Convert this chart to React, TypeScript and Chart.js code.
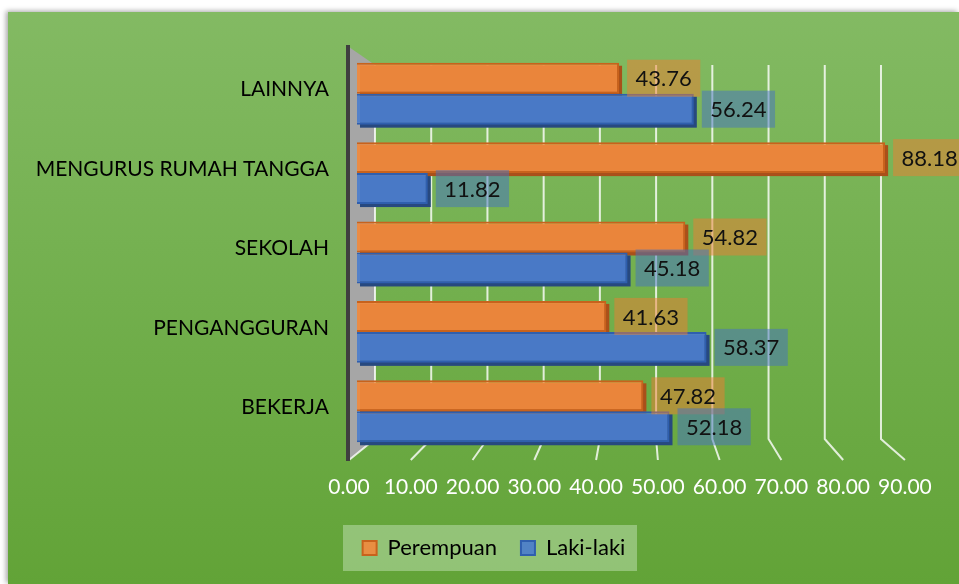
import React, { useEffect, useRef } from "react";
import { Chart, registerables } from "chart.js";

Chart.register(...registerables);

const categories = ["LAINNYA", "MENGURUS RUMAH TANGGA", "SEKOLAH", "PENGANGGURAN", "BEKERJA"];
const perempuan = [43.76, 88.18, 54.82, 41.63, 47.82];
const lakiLaki = [56.24, 11.82, 45.18, 58.37, 52.18];
const xTickValues = [0, 10, 20, 30, 40, 50, 60, 70, 80, 90];
const seriesNames = ["Perempuan", "Laki-laki"];

const FONT = "Lato, 'Open Sans', sans-serif";
const barFill = ["rgba(240,138,62,0.92)", "rgba(76,126,204,0.92)"];
const barBorder = ["#C8621C", "#2F5FAE"];
const barDepth = ["#A9501A", "#27497F"];
const labelBg = ["rgba(237,125,49,0.5)", "rgba(68,114,196,0.5)"];

export default function App() {
  const ref = useRef<HTMLCanvasElement>(null);

  useEffect(() => {
    const canvas = ref.current;
    if (!canvas) return;

    const legendShiftPlugin = {
      id: "legendShift",
      afterLayout(chart: any) {
        const lg = chart.legend;
        if (!lg) return;
        const target = 486;
        const dx = target - (lg.left + lg.right) / 2;
        lg.left += dx;
        lg.right += dx;
      },
      beforeDraw(chart: any) {
        const lg = chart.legend;
        if (!lg) return;
        const { ctx } = chart;
        const cx = (lg.left + lg.right) / 2 - 4;
        const cy = lg.top + 24 + 11;
        ctx.save();
        ctx.fillStyle = "rgba(205,232,195,0.45)";
        ctx.fillRect(cx - 147, cy - 23, 294, 46);
        ctx.restore();
      },
    };

    const wallPlugin = {
      id: "wall",
      beforeDatasetsDraw(chart: any) {
        const { ctx, chartArea } = chart;
        const wall = chart.scales.xWall;
        const lab = chart.scales.xLab;
        const topBack = chartArea.top + 11;
        const bottomBack = chartArea.bottom - 12;
        const frontBottom = chartArea.bottom + 9;
        const frontTop = chartArea.top - 7;
        const x0f = lab.getPixelForValue(0);
        const x0b = wall.getPixelForValue(0);
        ctx.save();
        ctx.fillStyle = "#A6A6A6";
        ctx.beginPath();
        ctx.moveTo(x0f, frontTop);
        ctx.lineTo(x0b, topBack);
        ctx.lineTo(x0b, bottomBack);
        ctx.lineTo(x0f, frontBottom);
        ctx.closePath();
        ctx.fill();
        ctx.strokeStyle = "rgba(255,255,255,0.8)";
        ctx.lineWidth = 2;
        xTickValues.forEach((v) => {
          const xb = wall.getPixelForValue(v);
          const xf = lab.getPixelForValue(v);
          ctx.beginPath();
          ctx.moveTo(xb, topBack);
          ctx.lineTo(xb, bottomBack);
          ctx.lineTo(xf, frontBottom);
          ctx.stroke();
        });
        ctx.strokeStyle = "#3F3F3F";
        ctx.lineWidth = 4;
        ctx.beginPath();
        ctx.moveTo(x0f - 1, frontTop - 2);
        ctx.lineTo(x0f - 1, frontBottom + 1);
        ctx.stroke();
        chart.data.datasets.forEach((ds: any, di: number) => {
          const meta = chart.getDatasetMeta(di);
          ctx.fillStyle = barDepth[di];
          meta.data.forEach((el: any) => {
            const h = el.height;
            ctx.fillRect(el.base + 3, el.y - h / 2 + 3, el.x - el.base, h);
          });
        });
        ctx.restore();
      },
    };

    const labelPlugin = {
      id: "valueLabels",
      afterDatasetsDraw(chart: any) {
        const { ctx } = chart;
        ctx.save();
        ctx.font = `22px ${FONT}`;
        ctx.textBaseline = "middle";
        ctx.textAlign = "left";
        chart.data.datasets.forEach((ds: any, di: number) => {
          const meta = chart.getDatasetMeta(di);
          meta.data.forEach((el: any, i: number) => {
            const txt = Number(ds.data[i]).toFixed(2);
            const w = ctx.measureText(txt).width + 17;
            const h = 37;
            const x = el.x + 8;
            ctx.fillStyle = labelBg[di];
            ctx.fillRect(x, el.y - h / 2, w, h);
            ctx.fillStyle = "#111111";
            ctx.fillText(txt, x + 8.5, el.y + 1);
          });
        });
        ctx.restore();
      },
    };

    const chart = new Chart(canvas, {
      type: "bar",
      data: {
        labels: categories,
        datasets: [
          {
            label: seriesNames[0],
            data: perempuan,
            backgroundColor: barFill[0],
            borderColor: barBorder[0],
            borderWidth: 2,
            xAxisID: "x",
          },
          {
            label: seriesNames[1],
            data: lakiLaki,
            backgroundColor: barFill[1],
            borderColor: barBorder[1],
            borderWidth: 2,
            xAxisID: "x",
          },
        ],
      },
      options: {
        indexAxis: "y",
        responsive: false,
        animation: false,
        devicePixelRatio: 1,
        events: [],
        layout: { padding: { top: 42, left: 0, right: 63, bottom: 15 } },
        datasets: { bar: { categoryPercentage: 0.78, barPercentage: 1 } },
        scales: {
          x: { type: "linear", min: 0, max: 90, display: false },
          xWall: { type: "linear", min: -3.2, max: 92.67, display: false },
          xLab: {
            type: "linear",
            position: "bottom",
            min: 1.295,
            max: 88.55,
            grid: { display: false, drawTicks: false },
            border: { display: false },
            afterBuildTicks: (scale: any) => {
              scale.ticks = xTickValues.map((v) => ({ value: v }));
            },
            afterFit: (scale: any) => {
              scale.height = 62;
            },
            ticks: {
              autoSkip: false,
              maxRotation: 0,
              padding: 24,
              color: "#FFFFFF",
              font: { family: FONT, size: 21 },
              callback: (v: any) => Number(v).toFixed(2),
            },
          },
          y: {
            type: "category",
            grid: { display: false, drawTicks: false },
            border: { display: false },
            afterFit: (scale: any) => {
              scale.width = 349;
            },
            ticks: {
              padding: 28,
              labelOffset: -4,
              color: "#000000",
              font: { family: FONT, size: 21 },
            },
          },
        },
        plugins: {
          legend: {
            position: "bottom",
            labels: {
              boxWidth: 14,
              boxHeight: 14,
              padding: 24,
              color: "#000000",
              font: { family: FONT, size: 22 },
            },
          },
          tooltip: { enabled: false },
          title: { display: false },
        },
      } as any,
      plugins: [legendShiftPlugin, wallPlugin, labelPlugin],
    });

    return () => chart.destroy();
  }, []);

  return (
    <div
      style={{
        position: "fixed",
        left: 8,
        top: 12,
        width: 951,
        height: 572,
        background: "linear-gradient(to bottom, #83BA63 0%, #72AF4D 50%, #62A337 100%)",
        boxShadow: "-2px -1px 5px rgba(0,0,0,0.35)",
      }}
    >
      <canvas ref={ref} width={951} height={572} style={{ display: "block" }} />
    </div>
  );
}
